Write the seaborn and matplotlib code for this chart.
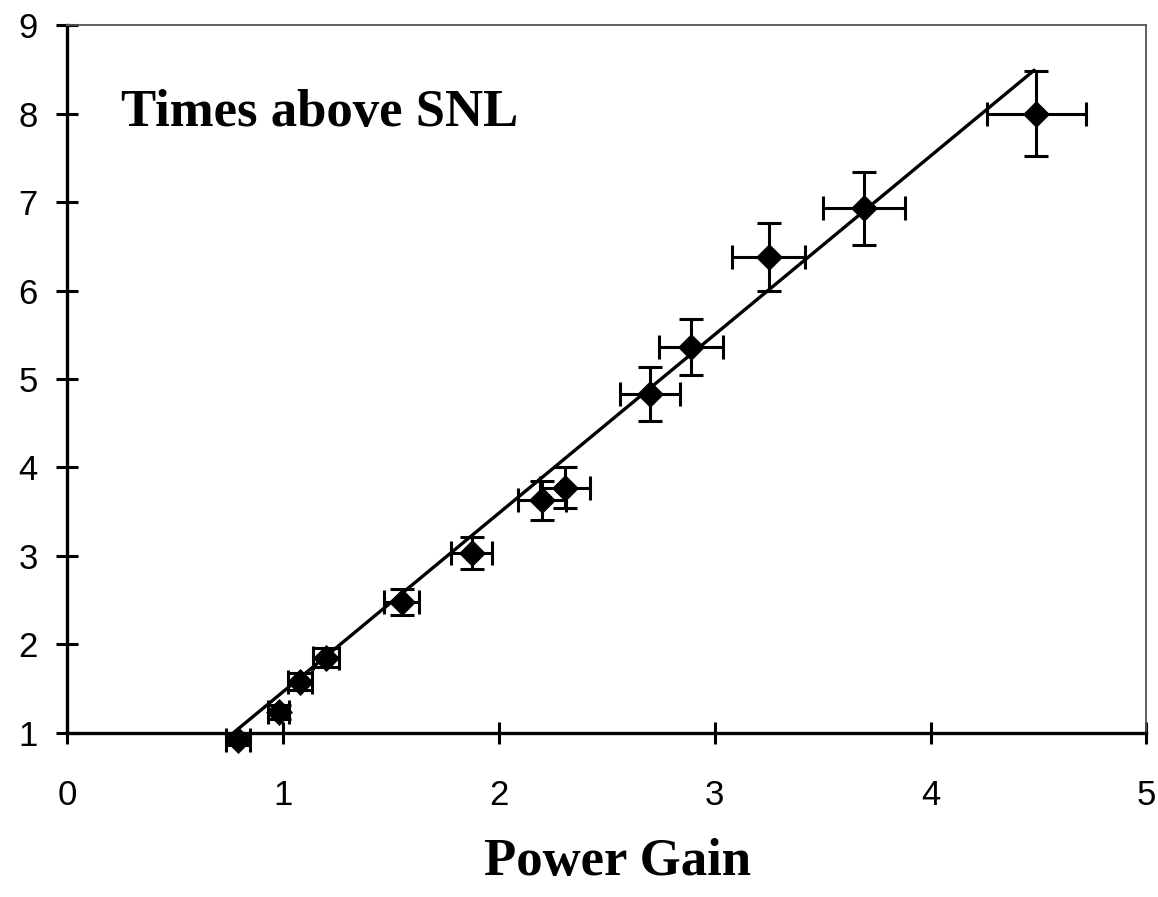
import numpy as np
import pandas as pd
import matplotlib
matplotlib.use("Agg")
import matplotlib.pyplot as plt
import seaborn as sns

# values
power_gain = [0.79, 0.98, 1.08, 1.20, 1.55, 1.875, 2.20, 2.305, 2.70, 2.89, 3.25, 3.69, 4.49]
times_snl = [0.92, 1.24, 1.58, 1.85, 2.48, 3.03, 3.63, 3.77, 4.83, 5.36, 6.38, 6.93, 8.00]
x_err = [0.055, 0.05, 0.055, 0.06, 0.08, 0.095, 0.11, 0.115, 0.14, 0.15, 0.17, 0.19, 0.23]
y_err = [0.06, 0.08, 0.095, 0.11, 0.15, 0.18, 0.22, 0.23, 0.30, 0.32, 0.38, 0.41, 0.48]

fit_x = [0.77, 4.48]
fit_y = [1.00, 8.49]

data = pd.DataFrame({"gain": power_gain, "times": times_snl})
fit = pd.DataFrame({"gain": fit_x, "times": fit_y})

sns.set_style("white")
plt.rcParams["font.family"] = ["Liberation Sans", "DejaVu Sans"]

fig = plt.figure(figsize=(11.58, 8.97), dpi=100)
ax = fig.add_axes([0.058, 0.183, 0.932, 0.789])

# trend line
sns.lineplot(data=fit, x="gain", y="times", ax=ax, color="black", lw=2.4, clip_on=False)

# error bars
ax.errorbar(power_gain, times_snl, xerr=x_err, yerr=y_err, fmt="none",
            ecolor="black", elinewidth=2.2, capsize=8.5, capthick=2.2, clip_on=False, zorder=3)

# diamonds
sns.scatterplot(data=data, x="gain", y="times", ax=ax, marker="D", s=190,
                color="black", edgecolor="black", linewidth=0, clip_on=False, zorder=4)

ax.set_xlim(0, 5)
ax.set_ylim(1, 9)
ax.set_xticks([0, 1, 2, 3, 4, 5])
ax.set_yticks([1, 2, 3, 4, 5, 6, 7, 8, 9])
ax.tick_params(axis="both", bottom=True, left=True, direction="inout", length=16,
               width=2.2, labelsize=25, colors="black")
ax.tick_params(axis="x", pad=25)
ax.tick_params(axis="y", pad=13)

for side in ["left", "bottom"]:
    ax.spines[side].set_color("black")
    ax.spines[side].set_linewidth(2.4)
for side in ["top", "right"]:
    ax.spines[side].set_color("#555555")
    ax.spines[side].set_linewidth(1.3)
    ax.spines[side].set_linestyle((0, (3, 1)))

ax.set_xlabel("")
ax.set_ylabel("")

ax.text(0.050, 0.857, "Times above SNL", transform=ax.transAxes, color="black",
        family=["Liberation Serif", "DejaVu Serif"], fontweight="bold", fontsize=38,
        va="baseline", ha="left")
fig.text(0.533, 0.024, "Power Gain", family=["Liberation Serif", "DejaVu Serif"],
         color="black", fontweight="bold", fontsize=38, ha="center", va="baseline")

fig.savefig("out.png", dpi=100)
